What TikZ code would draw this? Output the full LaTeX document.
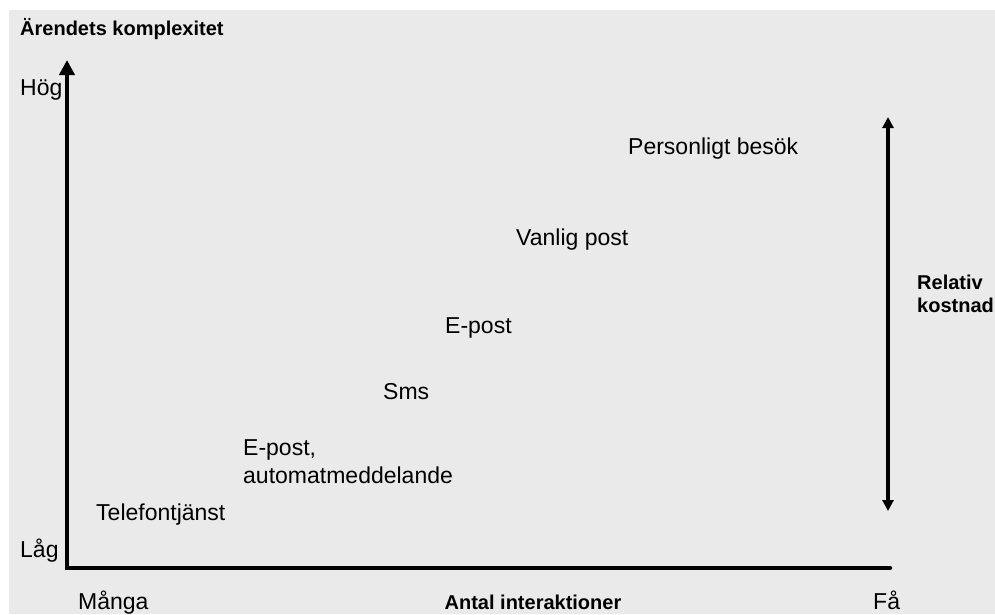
\documentclass[tikz,border=0pt]{standalone}
\usepackage{fontspec}
\setmainfont{Liberation Sans}
\usetikzlibrary{arrows.meta}
\definecolor{bggray}{HTML}{EAEAEA}
\begin{document}
\begin{tikzpicture}[x=1pt,y=-1pt,
  lbl/.style={anchor=base west,inner sep=0pt,font=\fontsize{23}{28}\selectfont,align=left},
  blbl/.style={anchor=base west,inner sep=0pt,font=\fontsize{20}{23}\selectfont\bfseries,align=left},
  axis/.style={line width=4.5pt,line join=miter},
  cost/.style={line width=3.5pt,{Triangle[width=11pt,length=11pt]}-{Triangle[width=11pt,length=11pt]}}]
\useasboundingbox (0,0) rectangle (995,614);
\fill[white] (0,0) rectangle (995,614);
\fill[bggray] (9,10) rectangle (995,614);
% texts
\node[blbl] (title) at (20,35) {Ärendets komplexitet};
\node[lbl] (hog) at (20,95) {Hög};
\node[lbl] (lag) at (20,557) {Låg};
\node[lbl] (manga) at (78,609) {Många};
\node[blbl,anchor=base] (antal) at (533,609) {Antal interaktioner};
\node[lbl] (fa) at (873,609) {Få};
\node[lbl] (besok) at (628,154) {Personligt besök};
\node[lbl] (vanlig) at (516,245) {Vanlig post};
\node[lbl] (epost) at (445,333) {E-post};
\node[lbl] (sms) at (383,399) {Sms};
\node[lbl] (epostauto) at (243,483) {E-post,\\automatmeddelande};
\node[lbl] (telefon) at (96,520) {Telefontjänst};
\node[blbl] (kostnad) at (917,312) {Relativ\\kostnad};
% axes
\coordinate (ytop) at (67,60);
\coordinate (origin) at (67,568);
\coordinate (xend) at (890,568);
\draw[axis,{Triangle[width=15pt,length=15pt]}-,line cap=round] (ytop) -- (origin) -- (xend);
% cost arrow
\coordinate (ctop) at (888,117);
\coordinate (cbot) at (888,511);
\draw[cost] (ctop) -- (cbot);
\end{tikzpicture}
\end{document}
